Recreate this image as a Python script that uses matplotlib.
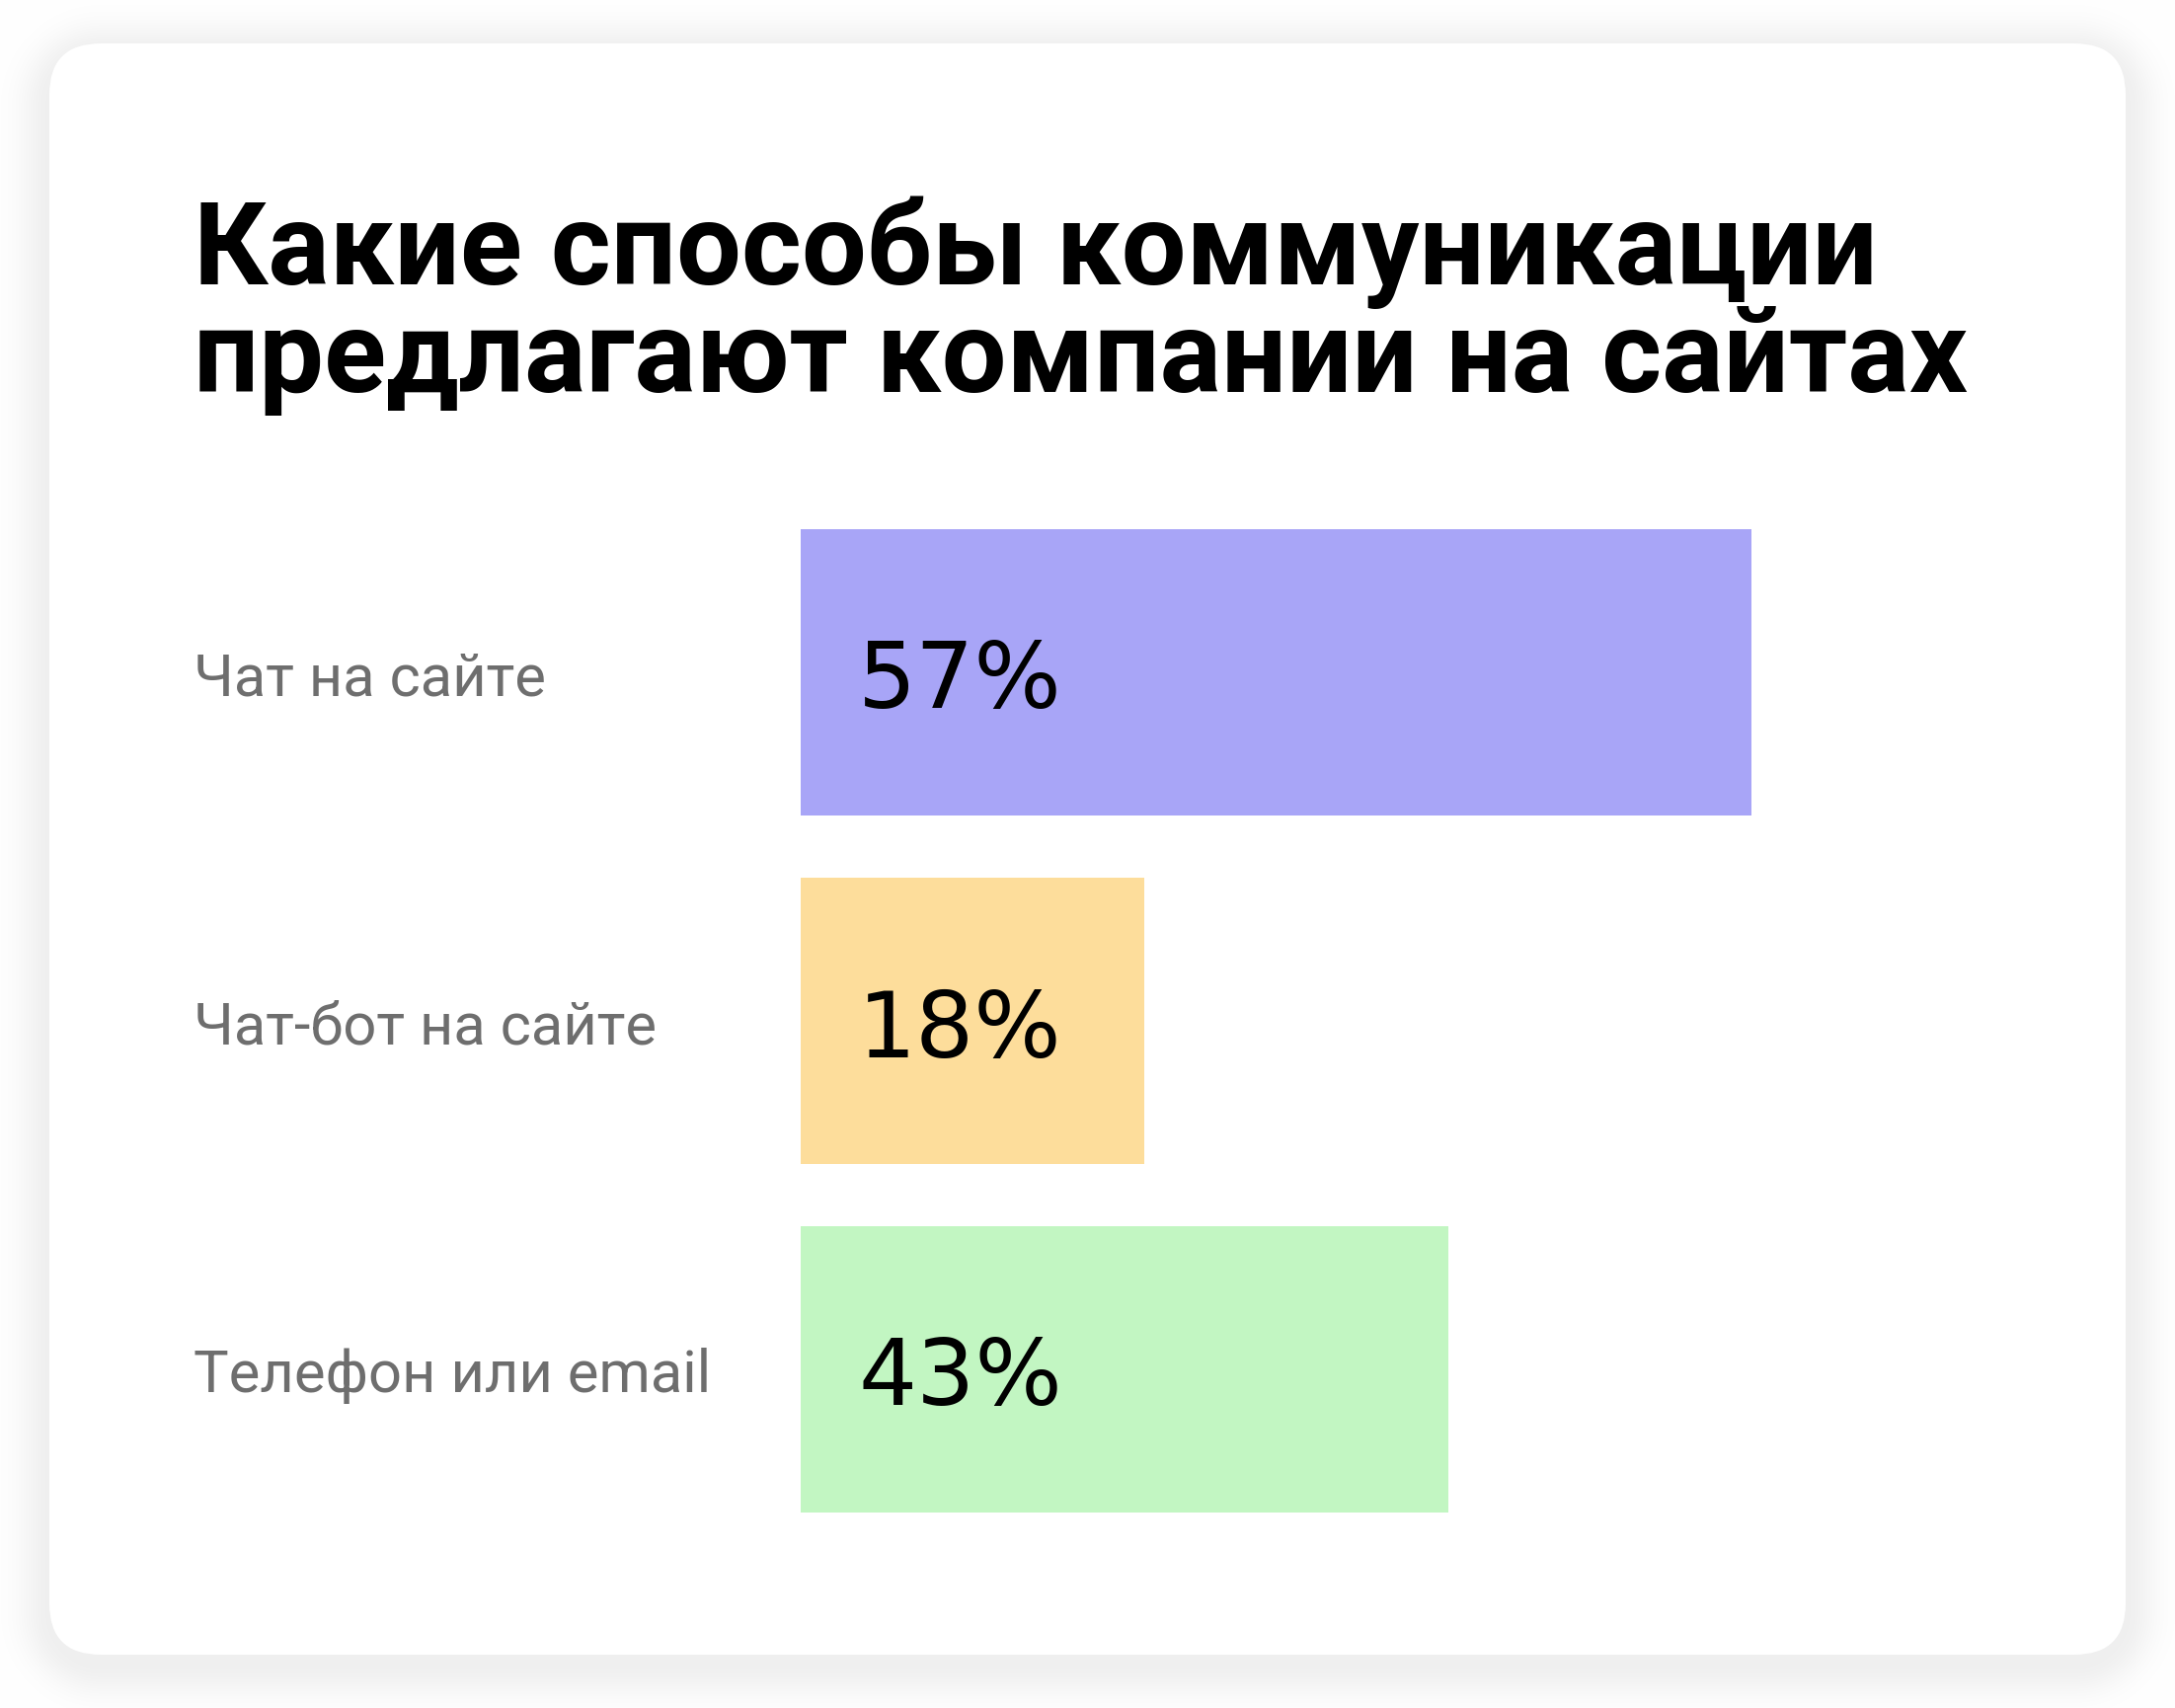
import numpy as np
import matplotlib
matplotlib.use("Agg")
import matplotlib.pyplot as plt
import matplotlib.transforms as mtransforms
from matplotlib.patches import FancyBboxPatch

# ---- data ----
title_lines = ["Какие способы коммуникации", "предлагают компании на сайтах"]
categories = ["Чат на сайте", "Чат-бот на сайте", "Телефон или email"]
values = [57, 18, 43]                 # labels shown on bars
bar_lengths = [57, 20.6, 38.8]        # drawn bar lengths
bar_colors = ["#A8A5F7", "#FDDD9B", "#C2F6C2"]

W, H = 2203, 1731
DPI = 100
fig = plt.figure(figsize=(W / DPI, H / DPI), dpi=DPI)
fig.patch.set_facecolor("white")

# ---- card shadow (image) ----
cx0, cy0, cx1, cy1, r = 50, 45, 2153, 1677, 52
yy, xx = np.mgrid[0:H, 0:W].astype(float)
off = 10.0
qx = np.maximum(np.maximum((cx0 + r) - xx, xx - (cx1 - r)), 0)
qy = np.maximum(np.maximum((cy0 + off + r) - yy, yy - (cy1 + off - r)), 0)
d = np.sqrt(qx ** 2 + qy ** 2) - r
d = np.clip(d, 0, None)
shade = 0.06 * np.exp(-(d / 30.0) ** 2)
img = np.ones((H, W, 3)) * (1 - shade)[..., None]
fig.figimage(img, xo=0, yo=0, origin="upper", zorder=0)

bg = fig.add_axes([0, 0, 1, 1], zorder=1)
bg.set_xlim(0, W)
bg.set_ylim(H, 0)
bg.axis("off")
bg.patch.set_alpha(0)
card = FancyBboxPatch((cx0 + r, cy0 + r), (cx1 - cx0) - 2 * r, (cy1 - cy0) - 2 * r,
                      boxstyle=f"round,pad={r}", facecolor="white", edgecolor="none")
bg.add_patch(card)

# ---- title ----
for line, yb in zip(title_lines, [288, 397]):
    bg.text(196, yb, line, fontsize=84, fontweight="bold", family="Roboto",
            color="black", va="baseline", ha="left")

# ---- bars ----
px_per_unit = (1774 - 811) / 57.0
ax_left = 811
ax_width_px = 100 * px_per_unit
pitch = 353
top_center = 682
ax_top = top_center - pitch / 2
ax_bottom = top_center + 2 * pitch + pitch / 2
ax = fig.add_axes([ax_left / W, 1 - ax_bottom / H, ax_width_px / W, (ax_bottom - ax_top) / H],
                  zorder=2)
ax.patch.set_alpha(0)
ypos = np.arange(len(categories))
ax.barh(ypos, bar_lengths, height=290 / pitch, left=0, color=bar_colors, edgecolor="none")
ax.set_xlim(0, 100)
ax.set_ylim(len(categories) - 0.5, -0.5)
ax.axis("off")

label_off = (869 - 811) / px_per_unit
for y, v in zip(ypos, values):
    ax.text(label_off, y, f"{v}%", fontsize=67, family="DejaVu Sans", color="black",
            va="center_baseline", ha="left")

trans = mtransforms.blended_transform_factory(bg.transData, ax.transData)
for y, c in zip(ypos, categories):
    ax.text(196, y, c, transform=trans, fontsize=43, family="Roboto", color="#6E6E6E",
            va="center_baseline", ha="left")

fig.savefig("out.png", dpi=DPI, facecolor="white")
